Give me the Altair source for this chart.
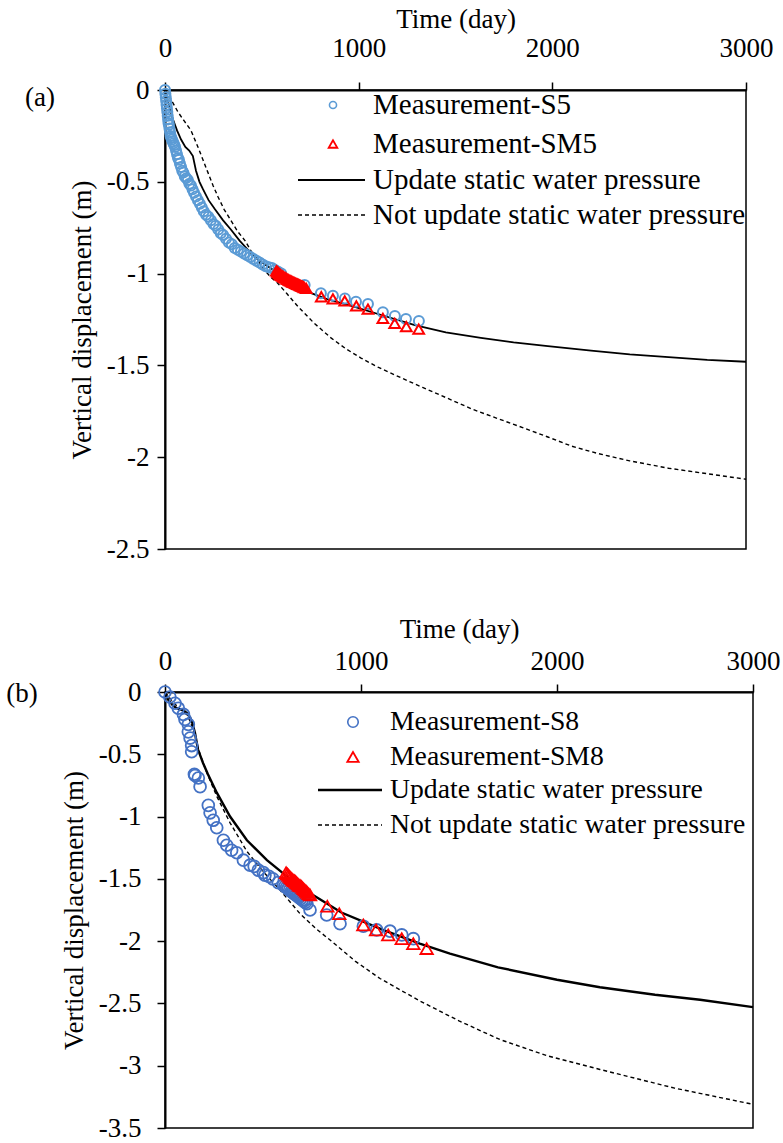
import altair as alt
import pandas as pd

FONT = "Liberation Serif"
BLUE_A = "#5B9BD5"
BLUE_B = "#4472C4"
RED = "#FF0000"

# ---------------- panel (a): S5 / SM5 ----------------
a_s5_t = [0, 2, 4, 6, 8, 10, 12, 14, 16, 18, 20, 23, 26, 29, 32, 36, 40, 44, 48, 52,
          57, 62, 67, 72, 77, 83, 89, 95, 102, 110, 118, 126, 134, 142, 150, 160, 170,
          180, 190, 200, 212, 224, 237, 250, 262, 275, 288, 300, 315, 330, 345, 360,
          376, 392, 408, 424, 440, 456, 472, 488, 504, 520, 536, 552, 568, 584, 600,
          721, 805, 867, 929, 986, 1048, 1125, 1187, 1244, 1311]
a_s5_d = [0.00, -0.02, -0.04, -0.06, -0.08, -0.10, -0.12, -0.14, -0.16, -0.18, -0.19,
          -0.21, -0.23, -0.25, -0.26, -0.27, -0.28, -0.29, -0.30, -0.31, -0.33, -0.35,
          -0.37, -0.38, -0.40, -0.42, -0.44, -0.45, -0.47, -0.48, -0.49, -0.51, -0.52,
          -0.54, -0.56, -0.58, -0.60, -0.62, -0.64, -0.66, -0.68, -0.69, -0.71, -0.73,
          -0.74, -0.76, -0.78, -0.79, -0.81, -0.83, -0.84, -0.86, -0.87, -0.88, -0.89,
          -0.90, -0.91, -0.92, -0.93, -0.94, -0.95, -0.96, -0.965, -0.97, -0.98, -0.99,
          -1.00, -1.062, -1.107, -1.120, -1.135, -1.153, -1.166, -1.211, -1.231,
          -1.247, -1.258]

a_sm5_t = [575, 580, 585, 590, 595, 600, 605, 610, 615, 620, 625, 630, 635, 640, 645,
           650, 655, 660, 665, 670, 675, 680, 685, 690, 695, 700, 705, 710, 715, 720,
           729, 807, 867, 928, 988, 1048, 1125, 1186, 1246, 1310]
a_sm5_d = [-0.985, -0.99, -0.995, -1.00, -1.005, -1.01, -1.012, -1.015, -1.02, -1.022,
           -1.025, -1.03, -1.032, -1.035, -1.038, -1.04, -1.043, -1.046, -1.048, -1.05,
           -1.053, -1.056, -1.058, -1.06, -1.063, -1.066, -1.068, -1.07, -1.073, -1.076,
           -1.080, -1.126, -1.138, -1.149, -1.176, -1.193, -1.244, -1.271, -1.289, -1.303]

a_upd_t = [0, 20, 41, 62, 83, 105, 125, 144, 160, 178, 196, 225, 258, 300, 340, 385,
           428, 475, 516, 560, 599, 660, 738, 840, 945, 1100, 1290, 1450, 1631, 1800,
           1977, 2200, 2400, 2600, 2800, 3000]
a_upd_d = [0.00, -0.08, -0.16, -0.22, -0.27, -0.31, -0.33, -0.36, -0.44, -0.50, -0.54,
           -0.60, -0.65, -0.71, -0.76, -0.82, -0.87, -0.92, -0.95, -0.98, -1.01, -1.05,
           -1.10, -1.14, -1.17, -1.22, -1.28, -1.32, -1.35, -1.375, -1.395, -1.42,
           -1.44, -1.455, -1.47, -1.48]

a_not_t = [0, 30, 67, 100, 134, 170, 196, 222, 248, 273, 305, 340, 375, 413, 446, 480,
           513, 547, 580, 630, 687, 770, 857, 935, 1012, 1100, 1203, 1330, 1461, 1590,
           1719, 1850, 1977, 2100, 2235, 2400, 2600, 2800, 3000]
a_not_d = [0.00, -0.05, -0.12, -0.17, -0.22, -0.31, -0.38, -0.45, -0.52, -0.58, -0.65,
           -0.71, -0.77, -0.82, -0.88, -0.93, -0.98, -1.02, -1.05, -1.11, -1.18, -1.27,
           -1.35, -1.41, -1.46, -1.51, -1.56, -1.62, -1.68, -1.74, -1.79, -1.84, -1.89,
           -1.94, -1.98, -2.02, -2.06, -2.09, -2.12]

# ---------------- panel (b): S8 / SM8 ----------------
b_s8_t = [0, 25, 51, 68, 94, 102, 119, 119, 128, 136, 136, 150, 153, 170, 179, 221,
          230, 246, 264, 298, 315, 340, 366, 400, 434, 455, 476, 502, 510, 530, 550,
          578, 604, 612, 620, 628, 636, 644, 652, 660, 668, 676, 684, 692, 700, 708,
          716, 724, 740, 825, 893, 1012, 1080, 1148, 1208, 1267]
b_s8_d = [0.00, -0.04, -0.09, -0.13, -0.18, -0.22, -0.26, -0.32, -0.37, -0.43, -0.48,
          -0.66, -0.67, -0.69, -0.76, -0.91, -0.97, -1.03, -1.09, -1.19, -1.23, -1.27,
          -1.29, -1.35, -1.39, -1.40, -1.43, -1.45, -1.47, -1.48, -1.50, -1.53, -1.55,
          -1.56, -1.57, -1.58, -1.59, -1.60, -1.61, -1.62, -1.63, -1.64, -1.65, -1.66,
          -1.67, -1.68, -1.69, -1.70, -1.75, -1.79, -1.86, -1.88, -1.91, -1.92, -1.95,
          -1.98]

b_sm8_t = [618, 624, 630, 636, 642, 648, 654, 660, 666, 672, 678, 684, 690, 696, 702,
           708, 714, 720, 726, 733, 740, 828, 889, 1012, 1077, 1139, 1208, 1267, 1335]
b_sm8_d = [-1.45, -1.46, -1.47, -1.48, -1.49, -1.50, -1.51, -1.515, -1.52, -1.53,
           -1.54, -1.55, -1.555, -1.56, -1.57, -1.58, -1.59, -1.60, -1.61, -1.62,
           -1.63, -1.72, -1.78, -1.87, -1.91, -1.95, -1.98, -2.02, -2.06]

b_upd_t = [0, 15, 41, 60, 77, 95, 112, 126, 138, 153, 168, 194, 219, 265, 332, 418,
           520, 622, 755, 900, 1112, 1300, 1454, 1699, 2000, 2219, 2500, 2730, 3000]
b_upd_d = [0.00, -0.06, -0.11, -0.13, -0.14, -0.15, -0.17, -0.20, -0.24, -0.33, -0.46,
           -0.57, -0.66, -0.81, -1.00, -1.19, -1.35, -1.48, -1.63, -1.77, -1.91, -2.02,
           -2.10, -2.21, -2.31, -2.37, -2.43, -2.47, -2.53]

b_not_t = [0, 40, 80, 110, 130, 150, 179, 214, 265, 332, 418, 500, 587, 689, 770, 857,
           970, 1097, 1300, 1500, 1709, 1950, 2219, 2600, 3000]
b_not_d = [0.00, -0.08, -0.14, -0.18, -0.24, -0.34, -0.50, -0.65, -0.84, -1.05, -1.28,
           -1.44, -1.59, -1.78, -1.90, -2.01, -2.16, -2.30, -2.48, -2.64, -2.79, -2.92,
           -3.03, -3.18, -3.31]

TIME_TICKS = [0, 1000, 2000, 3000]


def frame(t, d):
    return pd.DataFrame({"t": t, "d": d})


def panel(tag, s_t, s_d, sm_t, sm_d, u_t, u_d, n_t, n_d, y_min, width, height,
          blue, pt_style, leg, labels, x_pads, y_label_pad, y_title_pad,
          line_w, tag_pos):
    x_scale = alt.Scale(domain=[0, 3000], nice=False)
    y_scale = alt.Scale(domain=[y_min, 0], nice=False)
    y_ticks = [-i * 0.5 for i in range(int(round(-y_min / 0.5)) + 1)]

    x_axis = alt.Axis(orient="top", values=TIME_TICKS, title="Time (day)",
                      labelExpr="'' + datum.value",
                      tickSize=8, labelPadding=x_pads[0], titlePadding=x_pads[1],
                      labelFlush=False, grid=False)
    y_axis = alt.Axis(values=y_ticks, title="Vertical displacement (m)",
                      labelExpr="'' + datum.value", tickSize=8,
                      labelPadding=y_label_pad, titlePadding=y_title_pad, grid=False)

    x = alt.X("t:Q", scale=x_scale, axis=x_axis)
    y = alt.Y("d:Q", scale=y_scale, axis=y_axis)

    circ_size, tri_size, mark_w = pt_style
    not_upd = alt.Chart(frame(n_t, n_d)).mark_line(
        color="black", strokeWidth=1.4, strokeDash=[4, 3]).encode(x=x, y=y, order="t:Q")
    upd = alt.Chart(frame(u_t, u_d)).mark_line(
        color="black", strokeWidth=line_w).encode(x=x, y=y, order="t:Q")
    circles = alt.Chart(frame(s_t, s_d)).mark_point(
        shape="circle", filled=False, color=blue, strokeWidth=mark_w,
        size=circ_size, opacity=1).encode(x=x, y=y)
    tris = alt.Chart(frame(sm_t, sm_d)).mark_point(
        shape="triangle-up", filled=False, color=RED, strokeWidth=mark_w,
        size=tri_size, opacity=1).encode(x=x, y=y)

    # legend block, drawn inside the plot area
    one = pd.DataFrame({"k": [0]})
    sym_x, line_x0, line_x1, text_x, rows, sym_sizes, leg_font = leg
    legend = [
        alt.Chart(one).mark_point(shape="circle", filled=False, color=blue,
                                  strokeWidth=1.6, size=sym_sizes[0], opacity=1)
        .encode(x=alt.value(sym_x), y=alt.value(rows[0])),
        alt.Chart(one).mark_point(shape="triangle-up", filled=False, color=RED,
                                  strokeWidth=1.8, size=sym_sizes[1], opacity=1)
        .encode(x=alt.value(sym_x), y=alt.value(rows[1])),
        alt.Chart(one).mark_rule(color="black", strokeWidth=line_w)
        .encode(x=alt.value(line_x0), x2=alt.value(line_x1), y=alt.value(rows[2])),
        alt.Chart(one).mark_rule(color="black", strokeWidth=1.4, strokeDash=[4, 3])
        .encode(x=alt.value(line_x0), x2=alt.value(line_x1), y=alt.value(rows[3])),
    ]
    for label, ry in zip(labels, rows):
        legend.append(
            alt.Chart(one).mark_text(align="left", baseline="middle", font=FONT,
                                     fontSize=leg_font, color="black")
            .encode(x=alt.value(text_x), y=alt.value(ry), text=alt.value(label)))

    tag_mark = alt.Chart(one).mark_text(
        align="center", baseline="middle", font=FONT, fontSize=27, color="black"
    ).encode(x=alt.value(tag_pos[0]), y=alt.value(tag_pos[1]), text=alt.value(tag))

    return alt.layer(not_upd, upd, circles, tris, *legend, tag_mark).properties(
        width=width, height=height)


top = panel(
    "(a)", a_s5_t, a_s5_d, a_sm5_t, a_sm5_d, a_upd_t, a_upd_d, a_not_t, a_not_d,
    -2.5, 581, 459, BLUE_A, (100, 115, 2.0),
    (168, 133, 200, 208, [15, 54, 90, 125], (50, 75), 29),
    ["Measurement-S5", "Measurement-SM5", "Update static water pressure",
     "Not update static water pressure"],
    (20, 1), 8, 10, 1.8, (-125, 8))

bottom = panel(
    "(b)", b_s8_t, b_s8_d, b_sm8_t, b_sm8_d, b_upd_t, b_upd_d, b_not_t, b_not_d,
    -3.5, 588, 436, BLUE_B, (140, 155, 1.8),
    (188, 153, 217, 225, [30, 65, 98, 133], (110, 130), 27.7),
    ["Measurement-S8", "Measurement-SM8", "Update static water pressure",
     "Not update static water pressure"],
    (9, 4), 16, 10, 2.4, (-143, 2))

chart = alt.vconcat(top, bottom, spacing=51).properties(
    padding={"left": 5, "top": 4, "right": 0, "bottom": 0},
    background="white",
).configure_view(
    stroke="black", strokeWidth=1.5
).configure_axis(
    domainColor="black", domainWidth=2, tickColor="black", tickWidth=1.5,
    labelFont=FONT, labelFontSize=27, labelColor="black",
    titleFont=FONT, titleFontSize=27, titleFontWeight="normal", titleColor="black",
)

chart.save("out.html", embed_options={"renderer": "svg", "actions": False})
